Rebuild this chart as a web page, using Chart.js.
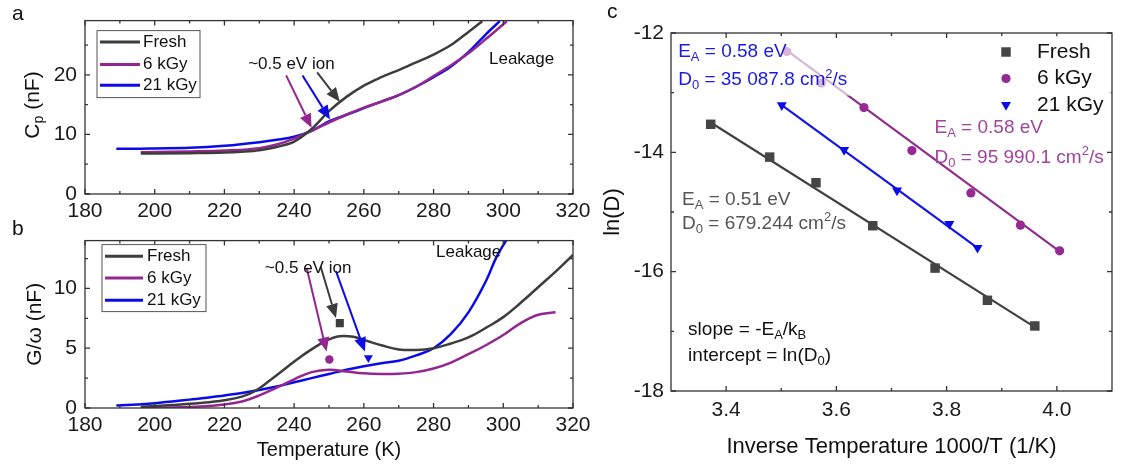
<!DOCTYPE html>
<html>
<head>
<meta charset="utf-8">
<script src="https://cdn.jsdelivr.net/npm/chart.js@4.4.1/dist/chart.umd.min.js"></script>
<style>
  html, body { margin: 0; padding: 0; background: #fff; }
  body { width: 1121px; height: 466px; position: relative; overflow: hidden; font-family: 'Liberation Sans', Arial, sans-serif; }
  canvas { position: absolute; }
  .tag { position: absolute; font-size: 21px; line-height: 21px; color: #111; }
</style>
</head>
<body>
<canvas id="cpChart" width="600" height="226" style="left:0;top:0"></canvas>
<canvas id="gChart" width="600" height="246" style="left:0;top:220px"></canvas>
<canvas id="arrChart" width="521" height="466" style="left:600px;top:0"></canvas>
<div class="tag" style="left:12px;top:2px">a</div>
<div class="tag" style="left:12px;top:217px">b</div>
<div class="tag" style="left:607px;top:0">c</div>
<script>
const FONT = "'Liberation Sans', Arial, sans-serif";
const GRAY = '#3d3d3d', PURPLE = '#93278f', BLUE = '#0b0bea';

// a: Cp vs temperature
const cpFreshT = [196, 200, 210, 220, 225, 230, 235, 240, 245, 250, 255, 260, 265, 270, 275, 280, 285, 290, 294];
const cpFresh = [6.8, 6.8, 6.85, 6.95, 7.1, 7.35, 7.9, 8.8, 10.9, 13.9, 16.3, 18.2, 19.6, 20.8, 22.1, 23.4, 25.0, 27.2, 29.0];
const cp6T = [196, 200, 210, 220, 230, 235, 240, 245, 250, 255, 260, 265, 270, 275, 280, 285, 290, 295, 301];
const cp6 = [7.0, 7.05, 7.15, 7.3, 7.7, 8.3, 9.3, 10.6, 12.0, 13.3, 14.5, 15.5, 16.6, 18.0, 19.8, 21.6, 23.6, 26.0, 29.0];
const cp21T = [189, 195, 200, 210, 220, 230, 235, 240, 245, 250, 255, 260, 265, 270, 275, 280, 285, 290, 295, 299];
const cp21 = [7.6, 7.6, 7.65, 7.75, 8.1, 8.7, 9.1, 9.6, 10.6, 12.2, 13.3, 14.4, 15.5, 16.6, 18.0, 19.6, 21.4, 23.8, 26.8, 29.0];

// b: G/omega vs temperature
const gFreshT = [196, 205, 213, 220, 225, 229, 233, 237, 241, 245, 249, 253, 257, 261, 265, 270, 275, 280, 285, 290, 295, 300, 305, 310, 315, 320];
const gFresh = [0.1, 0.25, 0.42, 0.65, 0.95, 1.45, 2.3, 3.2, 4.1, 4.9, 5.6, 6.0, 5.95, 5.6, 5.25, 4.9, 4.85, 5.0, 5.4, 5.9, 6.7, 7.6, 8.8, 10.1, 11.4, 12.8];
const g6T = [196, 205, 213, 220, 225, 230, 235, 240, 245, 250, 255, 260, 265, 270, 275, 280, 285, 290, 295, 300, 305, 310, 315];
const g6 = [0.0, 0.05, 0.12, 0.3, 0.55, 1.05, 1.7, 2.4, 3.0, 3.2, 3.05, 2.9, 2.85, 2.87, 3.0, 3.3, 3.8, 4.5, 5.25, 6.1, 7.1, 7.8, 8.0];
const g21T = [189, 195, 200, 205, 210, 215, 220, 225, 230, 235, 240, 245, 250, 255, 260, 265, 270, 275, 280, 285, 290, 295, 298, 301];
const g21 = [0.2, 0.3, 0.4, 0.55, 0.7, 0.85, 1.05, 1.25, 1.5, 1.8, 2.15, 2.5, 2.85, 3.2, 3.5, 3.75, 3.95, 4.4, 5.0, 6.2, 8.0, 10.6, 12.6, 14.1];
const peakT = [253.1, 250.1, 261.3];
const peakG = [7.1, 4.06, 4.19];

// c: Arrhenius plot
const freshInvT = [3.372, 3.479, 3.563, 3.666, 3.779, 3.874, 3.960];
const freshLnD = [-13.53, -14.08, -14.51, -15.23, -15.94, -16.48, -16.91];
const kGy6InvT = [3.510, 3.573, 3.650, 3.737, 3.844, 3.934, 4.005];
const kGy6LnD = [-12.31, -12.84, -13.25, -13.97, -14.68, -15.22, -15.65];
const kGy21InvT = [3.501, 3.614, 3.710, 3.805, 3.856];
const kGy21LnD = [-13.21, -13.96, -14.64, -15.20, -15.60];
const freshFitX = [3.372, 3.960], freshFitY = [-13.50, -16.93];
const kGy6FitX = [3.510, 4.005], kGy6FitY = [-12.29, -15.66];
const kGy21FitX = [3.501, 3.856], kGy21FitY = [-13.21, -15.60];

// ticks
const tempTicks = [180, 200, 220, 240, 260, 280, 300, 320];
const tempMinor = [190, 210, 230, 250, 270, 290, 310];
const cpTicks = [0, 10, 20], cpMinor = [5, 15, 25];
const gTicks = [0, 5, 10], gMinor = [2.5, 7.5, 12.5];
const invTicks = [3.4, 3.6, 3.8, 4.0], invMinor = [3.5, 3.7, 3.9];
const lnTicks = [-12, -14, -16, -18], lnMinor = [-13, -15, -17];

const pts = (xs, ys) => xs.map((x, i) => ({ x, y: ys[i] }));

function parseRich(s) {
  return s.split(/(_\{[^}]*\}|\^\{[^}]*\})/).filter(Boolean).map(p =>
    p.startsWith('_{') ? [p.slice(2, -1), 'sub'] :
    p.startsWith('^{') ? [p.slice(2, -1), 'sup'] : [p, '']);
}

function drawRich(ctx, s, x, y, size, color, align) {
  const parts = parseRich(s);
  const fontOf = m => `${m ? Math.round(size * 0.68) : size}px ${FONT}`;
  const widths = parts.map(([t, m]) => { ctx.font = fontOf(m); return ctx.measureText(t).width; });
  let cx = align === 'center' ? x - widths.reduce((a, b) => a + b, 0) / 2 : x;
  ctx.fillStyle = color; ctx.textAlign = 'left'; ctx.textBaseline = 'middle';
  parts.forEach(([t, m], i) => {
    ctx.font = fontOf(m);
    ctx.fillText(t, cx, y + (m === 'sub' ? size * 0.3 : m === 'sup' ? -size * 0.32 : 0));
    cx += widths[i];
  });
}

function marker(ctx, ds, x, y) {
  ctx.fillStyle = ds.backgroundColor;
  ctx.strokeStyle = ds.backgroundColor;
  Chart.helpers.drawPoint(ctx, { pointStyle: ds.pointStyle, rotation: ds.rotation || 0, radius: ds.pointRadius, borderWidth: 0 }, x, y);
}

// frame, inward ticks, annotations and legend
const figurePlugin = {
  id: 'figure',
  afterDatasetsDraw(chart, args, o) {
    const { ctx, chartArea: a, scales: { x, y } } = chart;
    const px = v => x.getPixelForValue(v), py = v => y.getPixelForValue(v);
    ctx.save();

    (o.backdrops || []).forEach(b => {
      ctx.fillStyle = b.color;
      ctx.fillRect(px(b.x0), py(b.y0), px(b.x1) - px(b.x0), py(b.y1) - py(b.y0));
    });

    ctx.strokeStyle = '#333';
    ctx.lineWidth = 1.3;
    ctx.strokeRect(a.left, a.top, a.right - a.left, a.bottom - a.top);
    ctx.beginPath();
    const xt = (v, len) => { const p = px(v); ctx.moveTo(p, a.bottom); ctx.lineTo(p, a.bottom - len); ctx.moveTo(p, a.top); ctx.lineTo(p, a.top + len); };
    const yt = (v, len) => { const p = py(v); ctx.moveTo(a.left, p); ctx.lineTo(a.left + len, p); ctx.moveTo(a.right, p); ctx.lineTo(a.right - len, p); };
    x.ticks.forEach(t => xt(t.value, 5));
    o.xMinor.forEach(v => xt(v, 3));
    y.ticks.forEach(t => yt(t.value, 5));
    o.yMinor.forEach(v => yt(v, 3));
    ctx.stroke();

    (o.arrows || []).forEach(r => {
      const x0 = px(r.x0), y0 = py(r.y0), x1 = px(r.x1), y1 = py(r.y1);
      const ang = Math.atan2(y1 - y0, x1 - x0), hl = 14, hw = 6;
      ctx.strokeStyle = r.color; ctx.fillStyle = r.color; ctx.lineWidth = 2;
      ctx.beginPath();
      ctx.moveTo(x0, y0);
      ctx.lineTo(x1 - Math.cos(ang) * hl, y1 - Math.sin(ang) * hl);
      ctx.stroke();
      ctx.beginPath();
      ctx.moveTo(x1, y1);
      ctx.lineTo(x1 - Math.cos(ang) * hl - Math.sin(ang) * hw, y1 - Math.sin(ang) * hl + Math.cos(ang) * hw);
      ctx.lineTo(x1 - Math.cos(ang) * hl + Math.sin(ang) * hw, y1 - Math.sin(ang) * hl - Math.cos(ang) * hw);
      ctx.closePath();
      ctx.fill();
    });

    (o.texts || []).forEach(t => drawRich(ctx, t.s, px(t.x), py(t.y), t.size, t.color));

    const lg = o.legend;
    if (lg) {
      if (lg.fill) { ctx.fillStyle = lg.fill; ctx.fillRect(a.left + lg.x, a.top + lg.y, lg.w, lg.h); }
      if (lg.border) { ctx.strokeStyle = lg.border; ctx.lineWidth = 1; ctx.strokeRect(a.left + lg.x, a.top + lg.y, lg.w, lg.h); }
      lg.items.forEach((di, i) => {
        const ds = chart.data.datasets[di], ry = a.top + lg.rows[i];
        if (lg.kind === 'line') {
          ctx.strokeStyle = ds.borderColor; ctx.lineWidth = 3;
          ctx.beginPath(); ctx.moveTo(a.left + lg.s0, ry); ctx.lineTo(a.left + lg.s1, ry); ctx.stroke();
        } else {
          marker(ctx, ds, a.left + lg.s0, ry);
        }
        drawRich(ctx, ds.label, a.left + lg.tx, ry, lg.size, '#111');
      });
    }

    if (o.yTitle) {
      ctx.translate(o.yTitle.x, o.yTitle.y);
      ctx.rotate(-Math.PI / 2);
      drawRich(ctx, o.yTitle.s, 0, 0, o.yTitle.size, '#111', 'center');
    }
    ctx.restore();
  }
};

function axis(ticks, min, max, fit, pad, title, fmt) {
  return {
    type: 'linear', min, max,
    grid: { display: false, drawTicks: false },
    border: { display: false },
    ticks: { font: { family: FONT, size: 21 }, color: '#1a1a1a', padding: pad, autoSkip: false, maxRotation: 0, callback: fmt || (v => String(v)) },
    afterBuildTicks: s => { s.ticks = ticks.map(v => ({ value: v })); },
    afterFit: fit,
    title: title || { display: false }
  };
}

const lineSet = (label, data, color, smooth) => ({
  label, data, borderColor: color, backgroundColor: color, borderWidth: 2.5,
  pointRadius: 0, fill: false,
  ...(smooth ? { tension: smooth } : { cubicInterpolationMode: 'monotone' })
});

const pointSet = (label, data, color, style, r, rot) => ({
  label, data, showLine: false, backgroundColor: color, borderColor: color, borderWidth: 0,
  pointStyle: style, pointRadius: r, rotation: rot || 0
});

const base = {
  responsive: false, animation: false, devicePixelRatio: 1,
  events: []
};

// Panel a
new Chart(document.getElementById('cpChart'), {
  type: 'line',
  data: {
    datasets: [
      lineSet('Fresh', pts(cpFreshT, cpFresh), GRAY),
      lineSet('6 kGy', pts(cp6T, cp6), PURPLE),
      lineSet('21 kGy', pts(cp21T, cp21), BLUE)
    ]
  },
  options: {
    ...base,
    layout: { padding: { left: 0, right: 27, top: 17, bottom: 0 } },
    scales: {
      x: axis(tempTicks, 180, 320, s => { s.height = 32; }, 5),
      y: axis(cpTicks, 0, 29.1, s => { s.width = 85; }, 8)
    },
    plugins: {
      legend: { display: false }, tooltip: { enabled: false },
      figure: {
        xMinor: tempMinor, yMinor: cpMinor,
        arrows: [
          { x0: 237.7, y0: 19.9, x1: 245.0, y1: 11.1, color: PURPLE },
          { x0: 242.4, y0: 19.9, x1: 250.3, y1: 12.5, color: BLUE },
          { x0: 246.6, y0: 20.4, x1: 253.1, y1: 15.5, color: GRAY }
        ],
        texts: [
          { s: '~0.5 eV ion', x: 226.8, y: 21.75, size: 17, color: '#111' },
          { s: 'Leakage', x: 295.9, y: 22.6, size: 17, color: '#111' }
        ],
        legend: { kind: 'line', x: 12, y: 10, w: 103, h: 67, border: '#555', fill: '#fff', s0: 15, s1: 55, tx: 58, rows: [21.3, 44, 64.7], size: 17, items: [0, 1, 2] },
        yTitle: { s: 'C_{p} (nF)', x: 33, y: 105, size: 21 }
      }
    }
  },
  plugins: [figurePlugin]
});

// Panel b
new Chart(document.getElementById('gChart'), {
  type: 'line',
  data: {
    datasets: [
      lineSet('Fresh', pts(gFreshT, gFresh), GRAY, 0.4),
      lineSet('6 kGy', pts(g6T, g6), PURPLE, 0.4),
      lineSet('21 kGy', pts(g21T, g21), BLUE, 0.4),
      pointSet('Fresh peak', [{ x: peakT[0], y: peakG[0] }], GRAY, 'rect', 5.7),
      pointSet('6 kGy peak', [{ x: peakT[1], y: peakG[1] }], PURPLE, 'circle', 4.2),
      pointSet('21 kGy peak', [{ x: peakT[2], y: peakG[2] }], BLUE, 'triangle', 5.2, 180)
    ]
  },
  options: {
    ...base,
    layout: { padding: { left: 0, right: 27, top: 11, bottom: 0 } },
    scales: {
      x: axis(tempTicks, 180, 320, s => { s.height = 58; }, 5,
        { display: true, text: 'Temperature (K)', color: '#111', font: { family: FONT, size: 20 }, padding: { top: 0, bottom: 4 } }),
      y: axis(gTicks, 0, 14, s => { s.width = 85; }, 8,
        { display: true, text: 'G/ω (nF)', color: '#111', font: { family: FONT, size: 21 }, padding: { top: 23, bottom: 0 } })
    },
    plugins: {
      legend: { display: false }, tooltip: { enabled: false },
      figure: {
        xMinor: tempMinor, yMinor: gMinor,
        arrows: [
          { x0: 243.6, y0: 11.7, x1: 249.3, y1: 4.72, color: PURPLE },
          { x0: 247.6, y0: 11.83, x1: 252.0, y1: 7.53, color: GRAY },
          { x0: 252.0, y0: 11.44, x1: 260.3, y1: 4.72, color: BLUE }
        ],
        texts: [
          { s: '~0.5 eV ion', x: 231.6, y: 11.7, size: 17, color: '#111' },
          { s: 'Leakage', x: 280.7, y: 13.0, size: 17, color: '#111' }
        ],
        legend: { kind: 'line', x: 17, y: 4, w: 104, h: 67, border: '#555', fill: '#fff', s0: 20, s1: 58, tx: 62, rows: [15.7, 37.3, 59.7], size: 17, items: [0, 1, 2] }
      }
    }
  },
  plugins: [figurePlugin]
});

// Panel c
new Chart(document.getElementById('arrChart'), {
  type: 'line',
  data: {
    datasets: [
      pointSet('Fresh', pts(freshInvT, freshLnD), '#454545', 'rect', 6.7),
      pointSet('6 kGy', pts(kGy6InvT, kGy6LnD), '#952a93', 'circle', 4.6),
      pointSet('21 kGy', pts(kGy21InvT, kGy21LnD), BLUE, 'triangle', 5.8, 180),
      { ...lineSet('Fresh fit', pts(freshFitX, freshFitY), '#404040'), borderWidth: 2.2, cubicInterpolationMode: 'default' },
      { ...lineSet('6 kGy fit', pts(kGy6FitX, kGy6FitY), '#8e2f8c'), borderWidth: 2.2, cubicInterpolationMode: 'default' },
      { ...lineSet('21 kGy fit', pts(kGy21FitX, kGy21FitY), '#1515e6'), borderWidth: 2.2, cubicInterpolationMode: 'default' }
    ]
  },
  options: {
    ...base,
    layout: { padding: { left: 0, right: 9, top: 33, bottom: 0 } },
    scales: {
      x: axis(invTicks, 3.3, 4.1, s => { s.height = 75; }, 7,
        { display: true, text: 'Inverse Temperature 1000/T (1/K)', color: '#111', font: { family: FONT, size: 22 }, padding: { top: 0, bottom: 6 } },
        v => v.toFixed(1)),
      y: axis(lnTicks, -18, -12, s => { s.width = 71; }, 7,
        { display: true, text: 'ln(D)', color: '#111', font: { family: FONT, size: 22 }, padding: { top: 0, bottom: 0 } })
    },
    plugins: {
      legend: { display: false }, tooltip: { enabled: false },
      figure: {
        xMinor: invMinor, yMinor: lnMinor,
        backdrops: [{ x0: 3.302, x1: 3.645, y0: -12.06, y1: -13.05, color: 'rgba(255,255,255,0.65)' }],
        texts: [
          { s: 'E_{A} = 0.58 eV', x: 3.313, y: -12.32, size: 19, color: '#1a1ae0' },
          { s: 'D_{0} = 35 087.8 cm^{2}/s', x: 3.313, y: -12.79, size: 19, color: '#1a1ae0' },
          { s: 'E_{A} = 0.58 eV', x: 3.778, y: -13.59, size: 19, color: '#a1449f' },
          { s: 'D_{0} = 95 990.1 cm^{2}/s', x: 3.778, y: -14.09, size: 19, color: '#a1449f' },
          { s: 'E_{A} = 0.51 eV', x: 3.32, y: -14.795, size: 19, color: '#555' },
          { s: 'D_{0} = 679.244 cm^{2}/s', x: 3.32, y: -15.2, size: 19, color: '#555' },
          { s: 'slope = -E_{A}/k_{B}', x: 3.331, y: -16.97, size: 19, color: '#111' },
          { s: 'intercept = ln(D_{0})', x: 3.331, y: -17.41, size: 19, color: '#111' }
        ],
        legend: { kind: 'point', x: 318, y: 3, w: 122, h: 84, fill: 'rgba(255,255,255,0.8)', s0: 335, tx: 366, rows: [19, 45.5, 72], size: 21, items: [0, 1, 2] }
      }
    }
  },
  plugins: [figurePlugin]
});
</script>
</body>
</html>
